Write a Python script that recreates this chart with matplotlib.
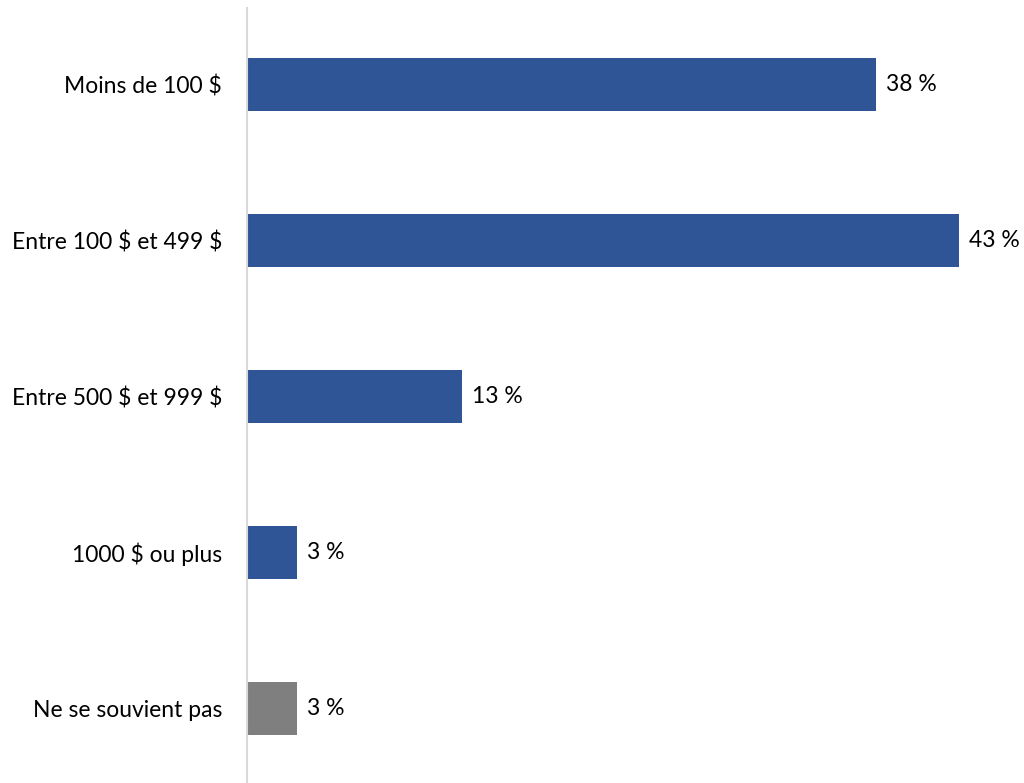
import matplotlib.pyplot as plt

# Montant dépensé
categories = ["Moins de 100 $", "Entre 100 $ et 499 $", "Entre 500 $ et 999 $",
              "1000 $ ou plus", "Ne se souvient pas"]
values = [38, 43, 13, 3, 3]
labels = ["38 %", "43 %", "13 %", "3 %", "3 %"]
colors = ["#2F5597", "#2F5597", "#2F5597", "#2F5597", "#7F7F7F"]

plt.rcParams['font.family'] = ['Lato', 'DejaVu Sans']
plt.rcParams['text.parse_math'] = False  # les "$" restent du texte

fig = plt.figure(figsize=(10.24, 7.83), dpi=100)
ax = fig.add_axes([247 / 1024, -4 / 783, 778 / 1024, 781 / 783])

pos = list(range(len(categories)))
ax.barh(pos, values, height=0.34, color=colors)
for p, v, lab in zip(pos, values, labels):
    ax.text(v + 0.6, p, lab, va='center', ha='left', fontsize=16.5, color='black')

ax.set_ylim(len(categories) - 0.5, -0.5)
ax.set_xlim(0, 47)
ax.set_yticks(pos)
ax.set_yticklabels(categories, fontsize=16.5)
ax.tick_params(axis='y', length=0, pad=18)
ax.set_xticks([])
for side in ['top', 'right', 'bottom']:
    ax.spines[side].set_visible(False)
ax.spines['left'].set_color('#D9D9D9')
ax.spines['left'].set_linewidth(1.5)
ax.spines['left'].set_bounds(-0.49, len(categories) - 0.5)

fig.savefig('out.png', dpi=100)
